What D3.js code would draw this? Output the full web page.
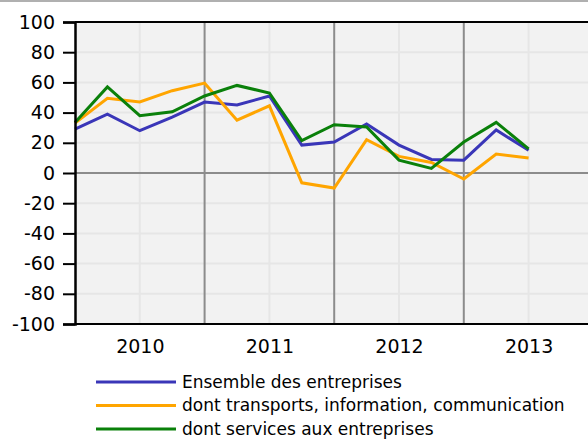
<!DOCTYPE html>
<html>
<head>
<meta charset="utf-8">
<script src="https://cdn.jsdelivr.net/npm/d3@7"></script>
<style>
  body { margin: 0; background: #fff; }
  svg { display: block; font-family: "DejaVu Sans", sans-serif; }
</style>
</head>
<body>
<div id="chart"></div>
<script>
// quarters from 2010 Q1 to 2013 Q3
var quarters = ["2010T1","2010T2","2010T3","2010T4","2011T1","2011T2","2011T3","2011T4",
                "2012T1","2012T2","2012T3","2012T4","2013T1","2013T2","2013T3"];
var years = [2010, 2011, 2012, 2013];
var yTicks = [-100, -80, -60, -40, -20, 0, 20, 40, 60, 80, 100];

var ensemble   = [29, 39, 28, 37, 47, 45, 51, 18.5, 20.5, 32.5, 18.5, 9, 8.5, 28.5, 15];
var transports = [33, 49.5, 47, 54.5, 59.5, 35, 44.5, -6.5, -10, 22, 11, 7, -4, 12.5, 10];
var services   = [33.5, 57, 38, 40.5, 51, 58, 53, 21.5, 32, 30.5, 8.5, 3, 20.5, 33.5, 16];

var series = [
  {name: "Ensemble des entreprises", values: ensemble, color: "#3a36b8"},
  {name: "dont transports, information, communication", values: transports, color: "#ffa500"},
  {name: "dont services aux entreprises", values: services, color: "#0a800a"}
];

var W = 588, H = 440;
var margin = {top: 22, left: 75, bottom: 116};
var quarterW = 32.4;

var svg = d3.select("#chart")
  .append("svg")
  .attr("width", W)
  .attr("height", H);

// x in quarter index: 0 = start of 2010
var x = d3.scaleLinear()
  .domain([0, 18])
  .range([margin.left, margin.left + 18 * quarterW]);

var y = d3.scaleLinear()
  .domain([-100, 100])
  .range([H - margin.bottom, margin.top]);

var plotRight = x(18);

// top frame line of the image
svg.append("rect")
  .attr("x", 0).attr("y", 0)
  .attr("width", W).attr("height", 2)
  .attr("fill", "#b0b0b0");

// plot background
svg.append("rect")
  .attr("x", margin.left)
  .attr("y", y(100))
  .attr("width", plotRight - margin.left)
  .attr("height", y(-100) - y(100))
  .attr("fill", "#f2f2f2");

// light grid
svg.append("g")
  .selectAll("line")
  .data(yTicks.filter(function(d) { return d !== 0 && Math.abs(d) !== 100; }))
  .enter().append("line")
  .attr("x1", margin.left).attr("x2", plotRight)
  .attr("y1", function(d) { return y(d); })
  .attr("y2", function(d) { return y(d); })
  .attr("stroke", "#e6e6e6")
  .attr("stroke-width", 2);

svg.append("g")
  .selectAll("line")
  .data(years)
  .enter().append("line")
  .attr("x1", function(d, i) { return x(i * 4 + 2); })
  .attr("x2", function(d, i) { return x(i * 4 + 2); })
  .attr("y1", y(100)).attr("y2", y(-100))
  .attr("stroke", "#e6e6e6")
  .attr("stroke-width", 2);

// year separators
svg.append("g")
  .selectAll("line")
  .data(years.slice(1))
  .enter().append("line")
  .attr("x1", function(d, i) { return x((i + 1) * 4); })
  .attr("x2", function(d, i) { return x((i + 1) * 4); })
  .attr("y1", y(100)).attr("y2", y(-100))
  .attr("stroke", "#8c8c8c")
  .attr("stroke-width", 2);

// zero line
svg.append("line")
  .attr("x1", margin.left).attr("x2", plotRight)
  .attr("y1", y(0)).attr("y2", y(0))
  .attr("stroke", "#8c8c8c")
  .attr("stroke-width", 2);

// series
var line = d3.line()
  .x(function(d, i) { return x(i); })
  .y(function(d) { return y(d); });

svg.append("g")
  .selectAll("path")
  .data(series)
  .enter().append("path")
  .attr("d", function(d) { return line(d.values); })
  .attr("fill", "none")
  .attr("stroke", function(d) { return d.color; })
  .attr("stroke-width", 3)
  .attr("stroke-linejoin", "miter");

// frame top / bottom
svg.append("line")
  .attr("x1", margin.left).attr("x2", plotRight)
  .attr("y1", y(100)).attr("y2", y(100))
  .attr("stroke", "#000").attr("stroke-width", 2);
svg.append("line")
  .attr("x1", margin.left).attr("x2", plotRight)
  .attr("y1", y(-100)).attr("y2", y(-100))
  .attr("stroke", "#000").attr("stroke-width", 2);

// y axis
var yAxis = svg.append("g")
  .attr("transform", "translate(" + margin.left + ",0)")
  .call(d3.axisLeft(y).tickValues(yTicks)
    .tickFormat(function(d) { return String(d); })
    .tickSize(12).tickPadding(8));
yAxis.select(".domain").attr("stroke-width", 2.5);
yAxis.selectAll(".tick line").attr("stroke-width", 2);
yAxis.selectAll("text")
  .attr("font-size", 19)
  .attr("font-family", "DejaVu Sans, sans-serif")
  .attr("fill", "#000");

// year labels
var xAxis = svg.append("g")
  .attr("transform", "translate(0," + y(-100) + ")")
  .call(d3.axisBottom(x)
    .tickValues(years.map(function(d, i) { return i * 4 + 2; }))
    .tickFormat(function(d) { return years[(d - 2) / 4]; })
    .tickSize(0).tickPadding(16));
xAxis.select(".domain").remove();
xAxis.selectAll("text")
  .attr("font-size", 19)
  .attr("font-family", "DejaVu Sans, sans-serif")
  .attr("fill", "#000");

// legend
var legend = svg.append("g")
  .selectAll("g")
  .data(series)
  .enter().append("g")
  .attr("transform", function(d, i) { return "translate(96," + (382 + i * 23.5) + ")"; });

legend.append("line")
  .attr("x1", 0).attr("x2", 80)
  .attr("stroke", function(d) { return d.color; })
  .attr("stroke-width", 3);

legend.append("text")
  .attr("x", 86)
  .attr("dy", "0.35em")
  .attr("font-size", 17)
  .attr("fill", "#000")
  .text(function(d) { return d.name; });
</script>
</body>
</html>
